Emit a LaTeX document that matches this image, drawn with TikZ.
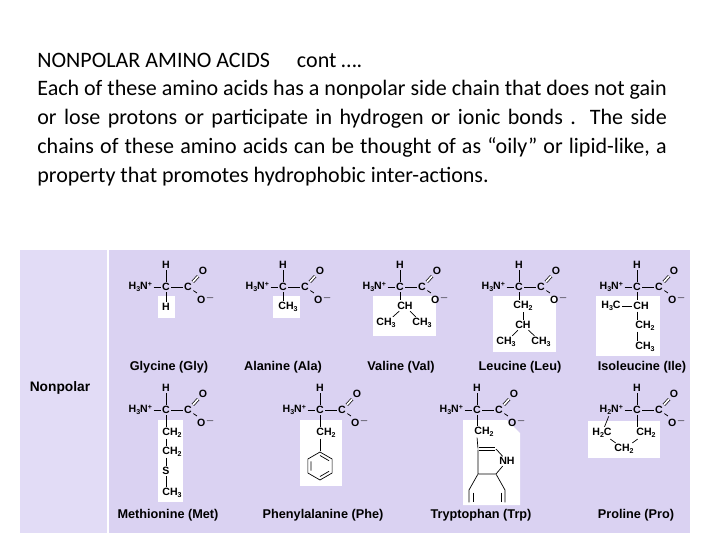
\documentclass[tikz,border=0pt]{standalone}
\usepackage{fontspec}
\setmainfont{Carlito}
\newfontfamily\chem{Liberation Sans}
\usetikzlibrary{positioning}
\definecolor{panel}{RGB}{218,210,242}
\definecolor{side}{RGB}{226,220,246}
\newcommand\chsub[1]{\raisebox{-0.35ex}{\fontsize{4}{4}\selectfont #1}}
\newcommand\chsup[1]{\raisebox{0.6ex}{\fontsize{4}{4}\selectfont #1}}
\tikzset{
    atom/.style={inner sep=0.4pt, font=\chem\bfseries\fontsize{6}{6}\selectfont},
    bond/.style={thin, shorten <=0.3pt, shorten >=0.3pt},
    dbond/.style={bond, double, double distance=1pt},
    chainbox/.style={fill=white, draw=none},
    aaname/.style={font=\chem\bfseries\fontsize{7.2}{8}\selectfont},
}
% backbone: name, x, y, amino group
\newcommand\backbone[4]{
    \node[atom] (#1a) at (#2,#3) {C};
    \node[atom] (#1h) at (#2,#3-22) {H};
    \node[atom, anchor=east] (#1n) at (#2-13,#3) {#4};
    \node[atom] (#1c) at (#2+22,#3) {C};
    \node[atom] (#1o) at (#2+37,#3-16) {O};
    \node[atom] (#1m) at (#2+40,#3+12) {O\chsup{$-$}};
    \draw[bond] (#1n) -- (#1a);
    \draw[bond] (#1a) -- (#1h);
    \draw[bond] (#1a) -- (#1c);
    \draw[dbond] (#1c) -- (#1o);
    \draw[bond] (#1c) -- (#1m);
}
\newcommand\amine{H\chsub{3}N\chsup{+}}
\begin{document}
\begin{tikzpicture}[x=0.567pt, y=-0.567pt]
    \useasboundingbox (0,0) rectangle (720,540);
    \fill[white] (0,0) rectangle (720,540);

    % text
    \node[anchor=base west, inner sep=0, font=\fontsize{12.5}{15}\selectfont] (title) at (37,67)
        {NONPOLAR AMINO ACIDS\quad\ cont \dots.};
    \node[anchor=north west, inner sep=0, text width=357pt, align=justify,
          font=\fontsize{12.5}{16.4}\selectfont] (body) at (37,80)
        {Each of these amino acids has a nonpolar side chain that does not gain or lose protons or participate in hydrogen or ionic bonds . The side chains of these amino acids can be thought of as “oily” or lipid-like, a property that promotes hydrophobic inter-actions.};

    % panel
    \fill[side] (20,250) rectangle (107,533);
    \fill[panel] (109,250) rectangle (690,533);
    \node[aaname, font=\chem\bfseries\fontsize{7.8}{8}\selectfont] (npl) at (60,388) {Nonpolar};

    % side chain boxes
    \fill[chainbox] (158,296) rectangle (175,318);
    \fill[chainbox] (273,296) rectangle (300,318);
    \fill[chainbox] (373,296) rectangle (436,336);
    \fill[chainbox] (493,296) rectangle (556,352);
    \fill[chainbox] (596,296) rectangle (660,356);
    \fill[chainbox] (158,420) rectangle (183,502);
    \fill[chainbox] (300,420) rectangle (342,486);
    \fill[chainbox] (463,420) -- (507,420) -- (520,433) -- (520,505) -- (463,505) -- cycle;
    \fill[chainbox] (588,421) rectangle (660,458);

    % backbones
    \backbone{gly}{166}{287}{\amine}
    \backbone{ala}{283}{287}{\amine}
    \backbone{val}{400}{287}{\amine}
    \backbone{leu}{519}{287}{\amine}
    \backbone{ile}{637}{287}{\amine}
    \backbone{met}{166}{410}{\amine}
    \backbone{phe}{320}{410}{\amine}
    \backbone{trp}{477}{410}{\amine}
    \backbone{pro}{637}{410}{H\chsub{2}N\chsup{+}}

    % glycine, alanine
    \node[atom] (glyr) at (166,307) {H};
    \draw[bond] (glya) -- (glyr);
    \node[atom] (alar) at (288,307) {CH\chsub{3}};
    \draw[bond] (alaa) -- (283,302);

    % valine
    \node[atom] (val1) at (405,306) {CH};
    \node[atom] (val2) at (386,323) {CH\chsub{3}};
    \node[atom] (val3) at (422,323) {CH\chsub{3}};
    \draw[bond] (vala) -- (400,301);
    \draw[bond] (val1) -- (val2);
    \draw[bond] (val1) -- (val3);

    % leucine
    \node[atom] (leu1) at (523,306) {CH\chsub{2}};
    \node[atom] (leu2) at (523,325) {CH};
    \node[atom] (leu3) at (506,342) {CH\chsub{3}};
    \node[atom] (leu4) at (541,342) {CH\chsub{3}};
    \draw[bond] (leua) -- (519,301);
    \draw[bond] (leu1) -- (leu2);
    \draw[bond] (leu2) -- (leu3);
    \draw[bond] (leu2) -- (leu4);

    % isoleucine
    \node[atom] (ile1) at (641,306) {CH};
    \node[atom] (ile2) at (611,306) {H\chsub{3}C};
    \node[atom] (ile3) at (645,326) {CH\chsub{2}};
    \node[atom] (ile4) at (645,347) {CH\chsub{3}};
    \draw[bond] (ilea) -- (637,301);
    \draw[bond] (ile2) -- (ile1);
    \draw[bond] (637,311) -- (637,321);
    \draw[bond] (637,331) -- (637,342);

    % methionine
    \node[atom] (met1) at (172,433) {CH\chsub{2}};
    \node[atom] (met2) at (172,452) {CH\chsub{2}};
    \node[atom] (met3) at (166,471) {S};
    \node[atom] (met4) at (172,493) {CH\chsub{3}};
    \draw[bond] (meta) -- (166,428);
    \draw[bond] (166,438) -- (166,447);
    \draw[bond] (166,457) -- (met3);
    \draw[bond] (met3) -- (166,488);

    % phenylalanine
    \node[atom] (phe1) at (326,433) {CH\chsub{2}};
    \draw[bond] (phea) -- (320,428);
    \foreach \k in {0,...,5} {
        \coordinate (p\k) at ({320+14*sin(60*\k)}, {466-14*cos(60*\k)});
        \coordinate (q\k) at ({320+10.5*sin(60*\k)}, {466-10.5*cos(60*\k)});
    }
    \draw[bond] (320,438) -- (p0);
    \draw[bond] (p0) -- (p1) -- (p2) -- (p3) -- (p4) -- (p5) -- cycle;
    \draw[bond] (q0) -- (q1) (q2) -- (q3) (q4) -- (q5);

    % tryptophan
    \node[atom] (trp1) at (484,432) {CH\chsub{2}};
    \node[atom] (trp2) at (507,461) {NH};
    \coordinate (t1) at (478,449);
    \coordinate (t2) at (496,449);
    \coordinate (t3) at (496,474);
    \coordinate (t4) at (478,474);
    \draw[bond] (trpa) -- (477,427);
    \draw[bond] (477,437) -- (t1);
    \draw[dbond] (t1) -- (t2);
    \draw[bond] (t2) -- (trp2) -- (t3) -- (t4) -- (t1);
    \draw[bond] (t4) -- (469,490) -- (469,503);
    \draw[bond] (473,492) -- (473,503);
    \draw[bond] (t3) -- (505,490) -- (505,503);
    \draw[bond] (501,492) -- (501,503);

    % proline
    \node[atom] (pro1) at (646,433) {CH\chsub{2}};
    \node[atom] (pro2) at (602,433) {H\chsub{2}C};
    \node[atom] (pro3) at (624,449) {CH\chsub{2}};
    \draw[bond] (proa) -- (637,428);
    \draw[bond] (pro1) -- (pro3);
    \draw[bond] (pro2) -- (pro3);
    \draw[bond] (pro2) -- (pron);

    % names
    \foreach \nm/\px/\py/\txt in {ng/169/367/Glycine (Gly), na/283/367/Alanine (Ala),
        nv/401/367/Valine (Val), nl/520/367/Leucine (Leu), ni/642/367/Isoleucine (Ile),
        nm/168/515/Methionine (Met), nf/323/515/Phenylalanine (Phe),
        nw/481/515/Tryptophan (Trp), nr/636/515/Proline (Pro)} {
        \node[aaname] (\nm) at (\px,\py) {\txt};
    }
\end{tikzpicture}
\end{document}
